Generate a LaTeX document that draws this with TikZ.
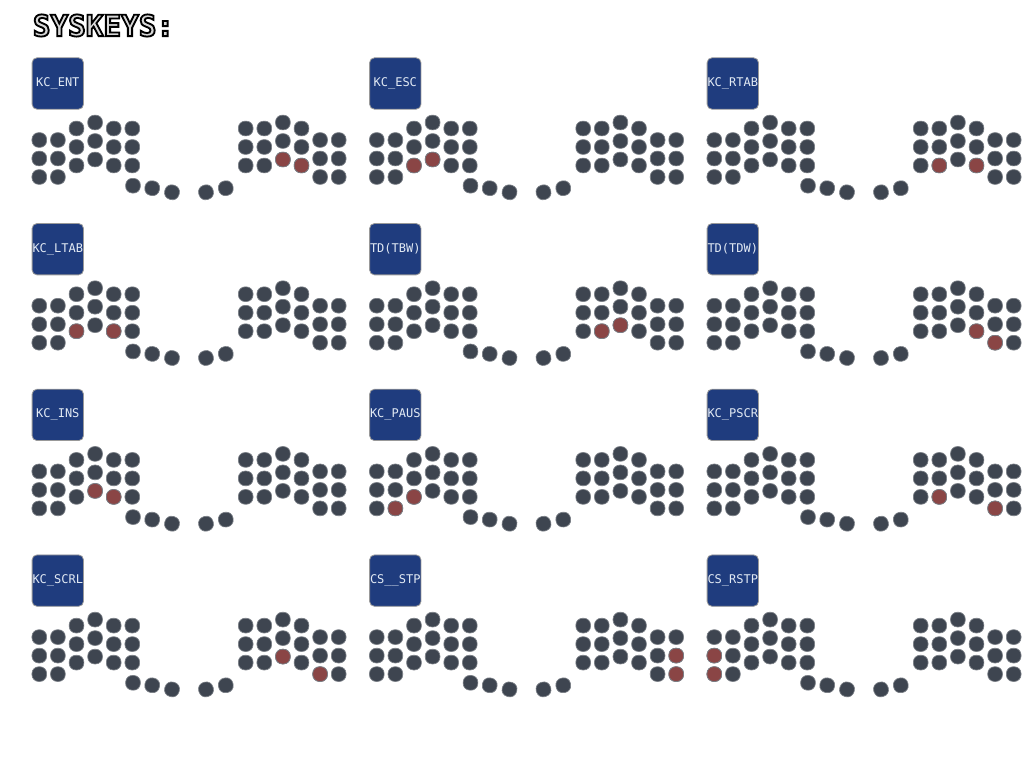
\documentclass[tikz,border=0pt]{standalone}
\usepackage{fontspec}
\newfontfamily\labelfont{DejaVu Sans Mono}
\newfontfamily\titlefont{DejaVu Sans Mono Bold}

\definecolor{keygray}{HTML}{3E4550}
\definecolor{keyred}{HTML}{8A4545}
\definecolor{keyedge}{HTML}{7A7F86}
\definecolor{labelblue}{HTML}{1F3C7E}
\definecolor{labeltext}{HTML}{E2EAF4}
\definecolor{titlegray}{HTML}{D8D8D8}

\tikzset{
  key/.style={draw=keyedge, line width=0.5pt, fill=keygray, rounded corners=5pt,
    minimum size=11pt, inner sep=0pt},
  redkey/.style={key, fill=keyred},
  keylabel/.style={draw=gray!80, line width=0.6pt, fill=labelblue, rounded corners=3.6pt,
    minimum size=38.5pt, inner sep=0pt, text=labeltext,
    font=\labelfont\fontsize{9}{9}\selectfont},
  titletext/.style={inner sep=0pt, text=titlegray, font=\titlefont\fontsize{22}{22}\selectfont},
}

% outlined text: black stroke round a light fill
\newcommand{\outlined}[1]{\special{pdf:literal direct 0 0 0 RG 1.4 w 2 Tr}#1\special{pdf:literal direct 0 Tr}}

% one keyboard: name, x shift, y shift, label
\newcommand{\keyboard}[4]{%
  \begin{scope}[shift={(#2,#3)}]
    \node[keylabel] (#1-label) at (57.8,83.5) {#4};
    % left half
    \foreach \cc/\off in {0/11.5,1/11.5,2/0,3/-6,4/0,5/0}
      \foreach \rr in {0,1,2}
        \node[key] (#1-L\cc\rr) at ({39.3+18.6*\cc},{128.5+(\off)+18.5*\rr}) {};
    % right half
    \foreach \cc/\off in {0/0,1/0,2/-6,3/0,4/11.5,5/11.5}
      \foreach \rr in {0,1,2}
        \node[key] (#1-R\cc\rr) at ({245.7+18.6*\cc},{128.5+(\off)+18.5*\rr}) {};
    % thumbs
    \node[key, rotate=-3] (#1-T0) at (133,185.7) {};
    \node[key, rotate=-9] (#1-T1) at (152.2,188.2) {};
    \node[key, rotate=-16] (#1-T2) at (172,192.3) {};
    \node[key, rotate=16] (#1-T3) at (206,192.3) {};
    \node[key, rotate=9] (#1-T4) at (225.8,188.2) {};
  \end{scope}
}

\begin{document}
\begin{tikzpicture}[x=0.75pt, y=-0.75pt]
\useasboundingbox (0,0) rectangle (1032,757);
\fill[white] (0,0) rectangle (1032,757);

\node[titletext] (title) at (103.5,25.5) {\outlined{SYSKEYS:}};

\keyboard{kb1}{0}{0}{KC\_ENT}
\keyboard{kb2}{337.5}{0}{KC\_ESC}
\keyboard{kb3}{675}{0}{KC\_RTAB}
\keyboard{kb4}{0}{165.7}{KC\_LTAB}
\keyboard{kb5}{337.5}{165.7}{TD(TBW)}
\keyboard{kb6}{675}{165.7}{TD(TDW)}
\keyboard{kb7}{0}{331.4}{KC\_INS}
\keyboard{kb8}{337.5}{331.4}{KC\_PAUS}
\keyboard{kb9}{675}{331.4}{KC\_PSCR}
\keyboard{kb10}{0}{497.1}{KC\_SCRL}
\keyboard{kb11}{337.5}{497.1}{CS\_\_STP}
\keyboard{kb12}{675}{497.1}{CS\_RSTP}

% held keys
\foreach \k in {kb1-R22,kb1-R32,kb2-L22,kb2-L32,kb3-R12,kb3-R32,
                kb4-L22,kb4-L42,kb5-R12,kb5-R22,kb6-R32,kb6-R42,
                kb7-L32,kb7-L42,kb8-L12,kb8-L22,kb9-R12,kb9-R42,
                kb10-R22,kb10-R42,kb11-R51,kb11-R52,kb12-L01,kb12-L02}
  \node[redkey] (\k-on) at (\k) {};
\end{tikzpicture}
\end{document}
